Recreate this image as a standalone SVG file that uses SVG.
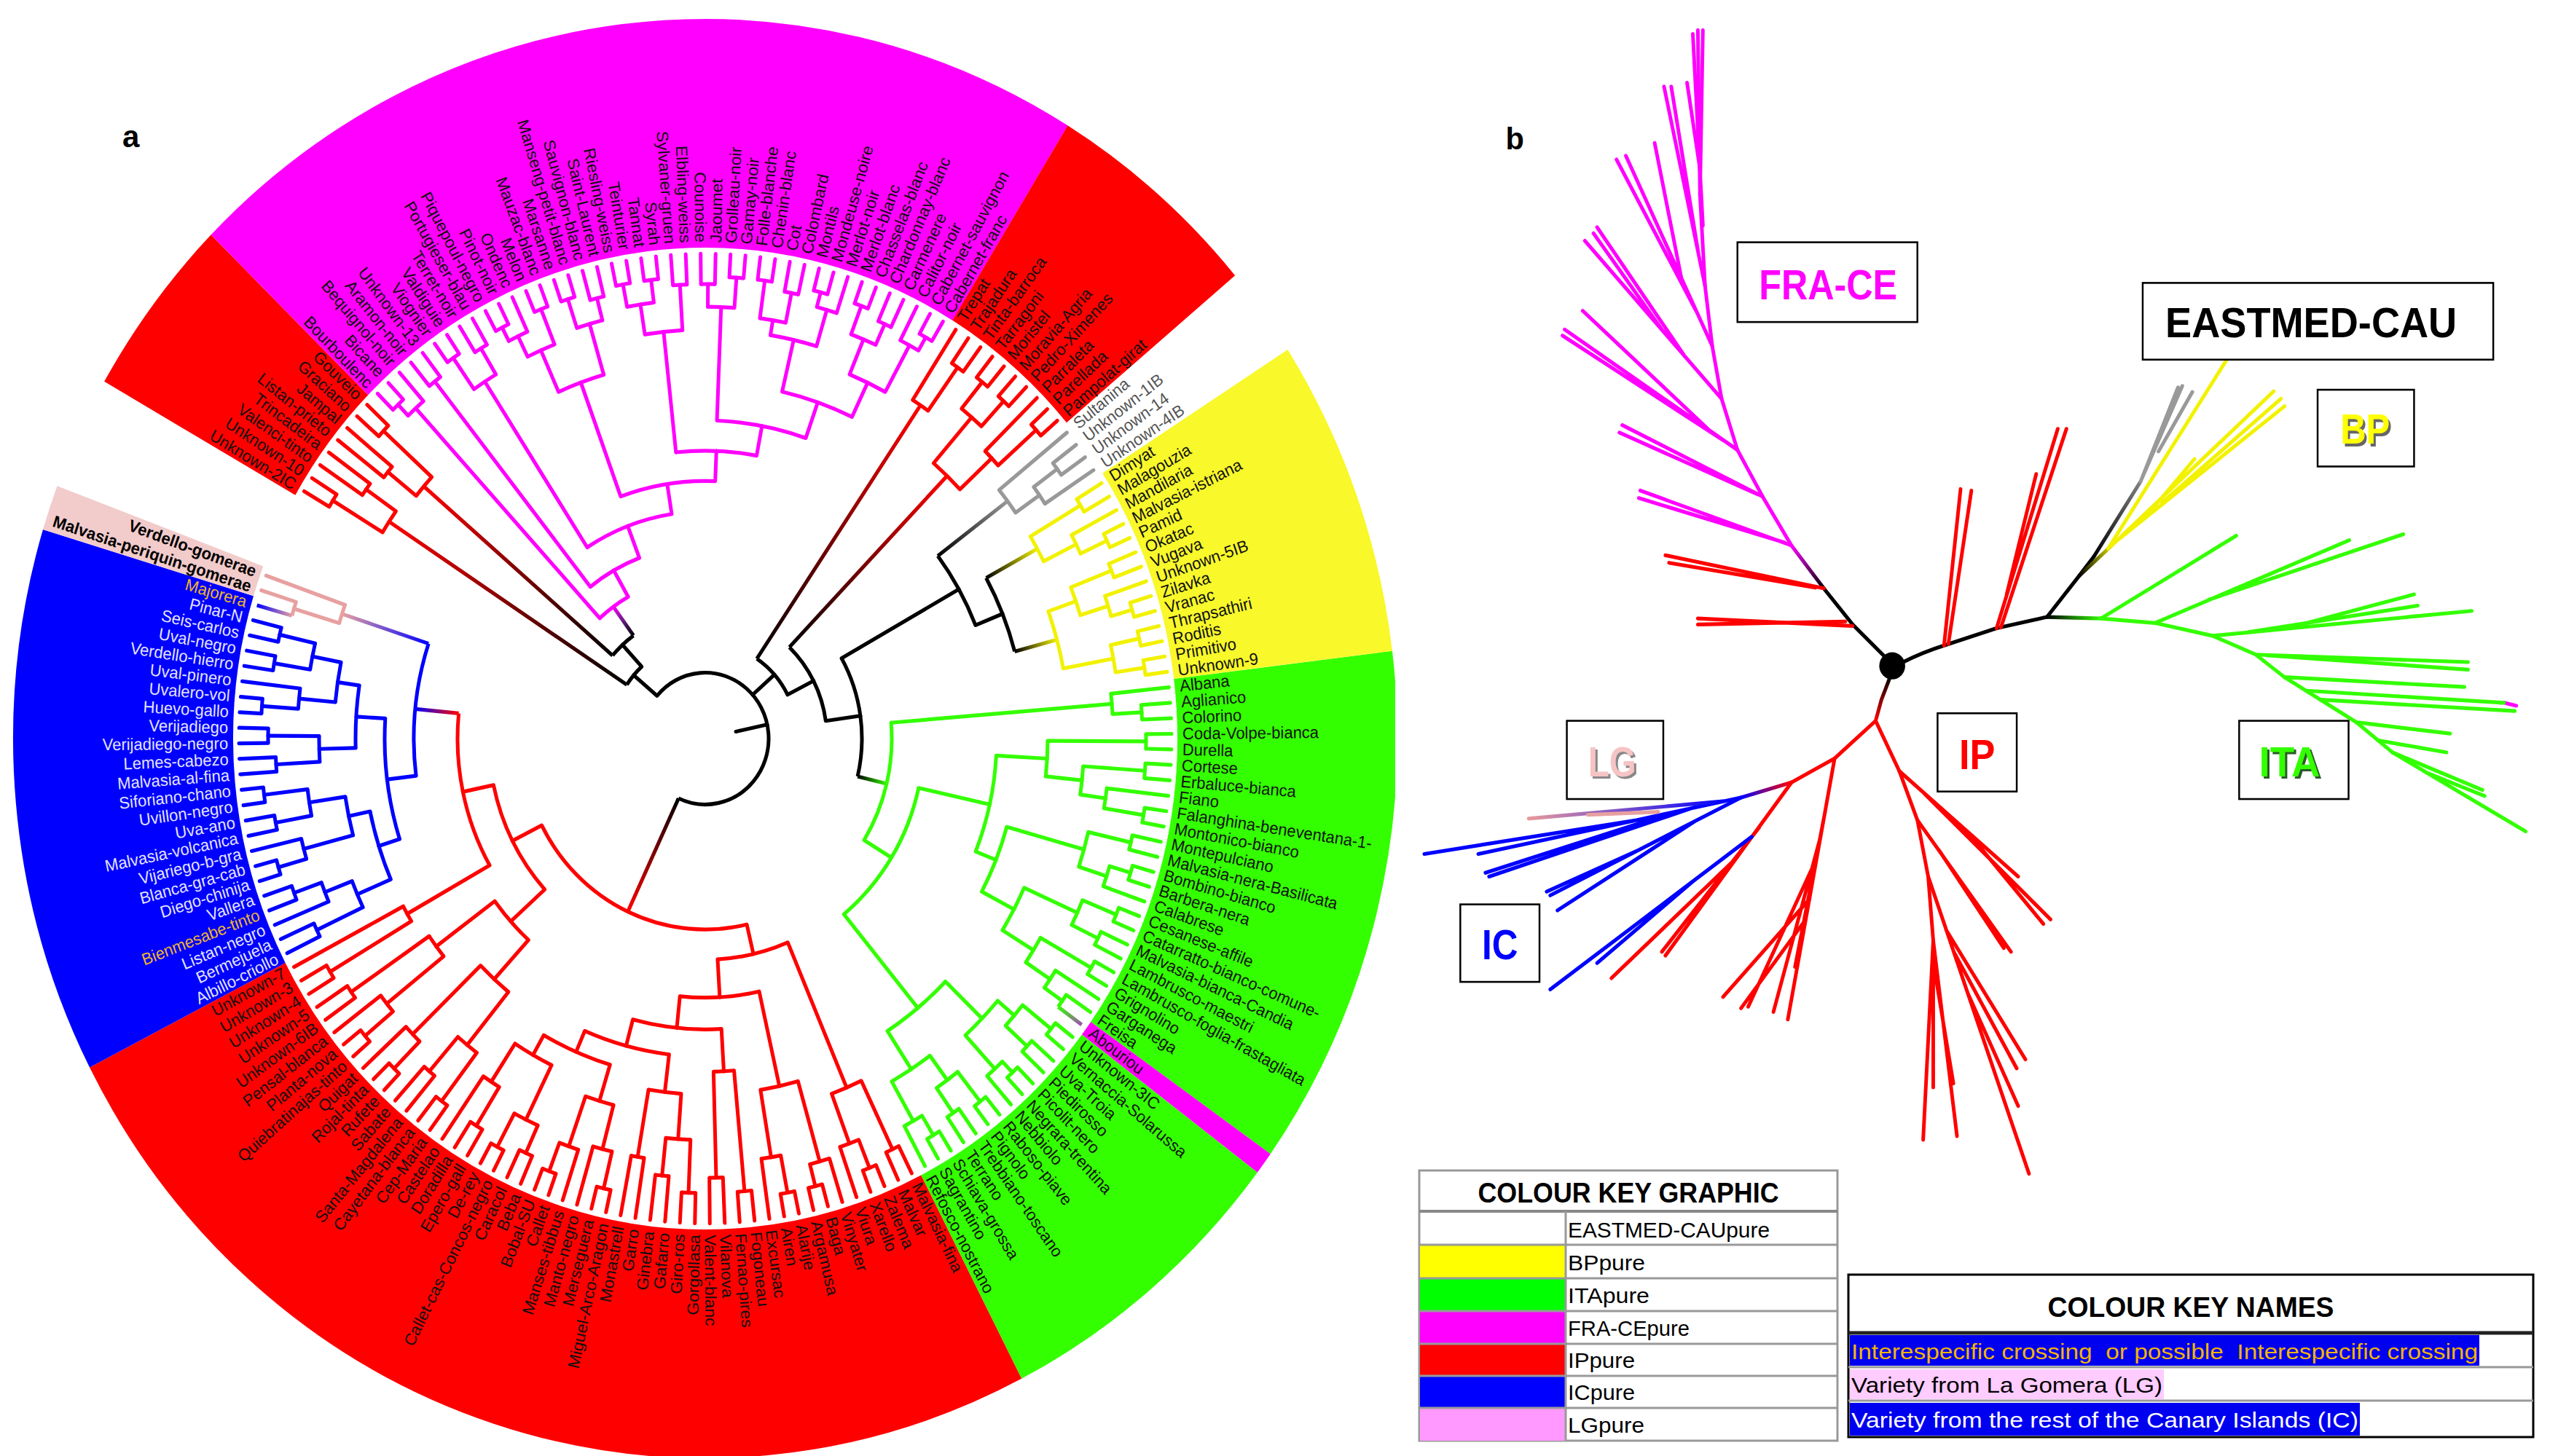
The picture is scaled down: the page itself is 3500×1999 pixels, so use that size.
<svg xmlns="http://www.w3.org/2000/svg" width="3500" height="1999" viewBox="0 0 3500 1999">
<defs>
<style>
.tr{fill:none;stroke-width:5;stroke-linecap:round}
.tr circle{stroke-linecap:butt;stroke-dasharray:var(--d) 999}
.tr circle,.tr line,.tr rect,.lab text,.wd circle{transform:rotate(calc(var(--i) * 1.8367deg - 6.07deg))}
.tr rect{stroke:none}
.wd circle{fill:none;stroke-width:302;stroke-dasharray:var(--d) 999}
.lab text{font-family:'Liberation Sans',Arial,Helvetica,sans-serif;font-size:22px;dominant-baseline:central;fill:#111}
.lab text.L{transform:rotate(calc(var(--i) * 1.8367deg - 186.07deg));text-anchor:end}
.lab .w{fill:#e4e4ff}
.lab .o{fill:#efb52a}
.lab .k{font-weight:bold;fill:#000}
.lab .g{fill:#555}
.bx rect{fill:#fff;stroke:#000;stroke-width:2.5}
.bx text{font-family:'Liberation Sans',Arial,sans-serif;font-weight:bold;font-size:56px;text-anchor:middle}
.kt{font-family:'Liberation Sans',Arial,sans-serif;font-size:30px}
.kh{font-family:'Liberation Sans',Arial,sans-serif;font-size:38px;font-weight:bold;text-anchor:middle}
</style>
<clipPath id="cA"><rect x="0" y="0" width="1915" height="1999"/></clipPath>
<linearGradient id="kR"><stop offset="0" stop-color="#000"/><stop offset="1" stop-color="#f00"/></linearGradient>
<linearGradient id="kM"><stop offset="0" stop-color="#000"/><stop offset=".5" stop-color="#602080"/><stop offset="1" stop-color="#f0f"/></linearGradient>
<linearGradient id="kG"><stop offset="0" stop-color="#000"/><stop offset="1" stop-color="#33ff00"/></linearGradient>
<linearGradient id="kY"><stop offset="0" stop-color="#000"/><stop offset="1" stop-color="#f2f200"/></linearGradient>
<linearGradient id="kGr"><stop offset="0" stop-color="#000"/><stop offset="1" stop-color="#999"/></linearGradient>
<linearGradient id="kRB"><stop offset="0" stop-color="#f00"/><stop offset="1" stop-color="#00f"/></linearGradient>
<linearGradient id="kBP"><stop offset="0" stop-color="#00f"/><stop offset="1" stop-color="#e8a0a0"/></linearGradient>
<linearGradient id="kPB"><stop offset="0" stop-color="#e8a0a0"/><stop offset="1" stop-color="#00f"/></linearGradient>
<linearGradient id="kGM"><stop offset="0" stop-color="#33ff00"/><stop offset="1" stop-color="#a050b0"/></linearGradient>
<linearGradient id="pbM" gradientUnits="userSpaceOnUse" x1="560" y1="782" x2="515" y2="725"><stop offset="0" stop-color="#000"/><stop offset="1" stop-color="#f0f"/></linearGradient>
<linearGradient id="pbR" gradientUnits="userSpaceOnUse" x1="652" y1="900" x2="632" y2="958"><stop offset="0" stop-color="#000"/><stop offset="1" stop-color="#f00"/></linearGradient>
<linearGradient id="pbRB" gradientUnits="userSpaceOnUse" x1="515" y1="1040" x2="445" y2="1060"><stop offset="0" stop-color="#f00"/><stop offset="1" stop-color="#00f"/></linearGradient>
<linearGradient id="pbG" gradientUnits="userSpaceOnUse" x1="870" y1="820" x2="945" y2="822"><stop offset="0" stop-color="#000"/><stop offset="1" stop-color="#33ff00"/></linearGradient>
<linearGradient id="pbY" gradientUnits="userSpaceOnUse" x1="915" y1="765" x2="965" y2="722"><stop offset="0" stop-color="#000"/><stop offset="1" stop-color="#f2f200"/></linearGradient>
<linearGradient id="pbGr" gradientUnits="userSpaceOnUse" x1="935" y1="740" x2="1010" y2="620"><stop offset="0" stop-color="#000"/><stop offset="1" stop-color="#999"/></linearGradient>
<linearGradient id="pbBP" gradientUnits="userSpaceOnUse" x1="420" y1="1065" x2="150" y2="1088"><stop offset="0" stop-color="#00f"/><stop offset="1" stop-color="#e89a9a"/></linearGradient>
</defs>
<rect width="3500" height="1999" fill="#fff"/>

<g id="panel-a" clip-path="url(#cA)">
<g transform="translate(968,1014) scale(1,1.04)">
<g id="wedges" class="wd">
<circle r="799" pathLength="196" stroke="#33ff00" style="--i:-0.5;--d:23"/>
<circle r="799" pathLength="196" stroke="#ff00ff" style="--i:22.5;--d:1"/>
<circle r="799" pathLength="196" stroke="#33ff00" style="--i:23.5;--d:14"/>
<circle r="799" pathLength="196" stroke="#ff0000" style="--i:37.5;--d:49"/>
<circle r="799" pathLength="196" stroke="#0000ff" style="--i:86.5;--d:24"/>
<circle r="799" pathLength="196" stroke="#f2cbcb" style="--i:110.5;--d:2"/>
<circle r="799" pathLength="196" stroke="#ff0000" style="--i:117.5;--d:8"/>
<circle r="799" pathLength="196" stroke="#ff00ff" style="--i:125.5;--d:42"/>
<circle r="799" pathLength="196" stroke="#ff0000" style="--i:167.5;--d:10"/>
<circle r="799" pathLength="196" stroke="#f8f82a" style="--i:181.5;--d:14"/>
</g>

<g id="connectors" class="tr">
<g id="tree-ITA" stroke="#33ff00">
<circle r="600" pathLength="196" style="--i:1;--d:1"/><line x1="600" x2="640" style="--i:1"/><line x1="600" x2="640" style="--i:2"/>
<circle r="560" pathLength="196" style="--i:0;--d:1.5"/><line x1="560" x2="640" style="--i:0"/><line x1="560" x2="600" style="--i:1.5"/>
<circle r="605" pathLength="196" style="--i:3;--d:1"/><line x1="605" x2="640" style="--i:3"/><line x1="605" x2="640" style="--i:4"/>
<circle r="605" pathLength="196" style="--i:5;--d:1"/><line x1="605" x2="640" style="--i:5"/><line x1="605" x2="640" style="--i:6"/>
<circle r="610" pathLength="196" style="--i:8;--d:1"/><line x1="610" x2="640" style="--i:8"/><line x1="610" x2="640" style="--i:9"/>
<circle r="555" pathLength="196" style="--i:7;--d:1.5"/><line x1="555" x2="640" style="--i:7"/><line x1="555" x2="610" style="--i:8.5"/>
<circle r="520" pathLength="196" style="--i:5.5;--d:2.25"/><line x1="520" x2="605" style="--i:5.5"/><line x1="520" x2="555" style="--i:7.75"/>
<circle r="470" pathLength="196" style="--i:3.5;--d:3.125"/><line x1="470" x2="605" style="--i:3.5"/><line x1="470" x2="520" style="--i:6.625"/>
<circle r="600" pathLength="196" style="--i:10;--d:1"/><line x1="600" x2="640" style="--i:10"/><line x1="600" x2="640" style="--i:11"/>
<circle r="610" pathLength="196" style="--i:12;--d:1"/><line x1="610" x2="640" style="--i:12"/><line x1="610" x2="640" style="--i:13"/>
<circle r="580" pathLength="196" style="--i:12.5;--d:1.5"/><line x1="580" x2="610" style="--i:12.5"/><line x1="580" x2="640" style="--i:14"/>
<circle r="540" pathLength="196" style="--i:10.5;--d:2.75"/><line x1="540" x2="600" style="--i:10.5"/><line x1="540" x2="580" style="--i:13.25"/>
<circle r="610" pathLength="196" style="--i:15;--d:1"/><line x1="610" x2="640" style="--i:15"/><line x1="610" x2="640" style="--i:16"/>
<circle r="600" pathLength="196" style="--i:17;--d:1"/><line x1="600" x2="640" style="--i:17"/><line x1="600" x2="640" style="--i:18"/>
<circle r="560" pathLength="196" style="--i:15.5;--d:2"/><line x1="560" x2="610" style="--i:15.5"/><line x1="560" x2="600" style="--i:17.5"/>
<circle r="610" pathLength="196" style="--i:19;--d:1"/><line x1="610" x2="640" style="--i:19"/><line x1="610" x2="640" style="--i:20"/>
<circle r="600" pathLength="196" style="--i:22;--d:1"/><line x1="600" x2="640" style="--i:22"/><rect x="600" y="-2.5" width="40" height="5" fill="url(#kGM)" style="--i:23"/>
<circle r="570" pathLength="196" style="--i:21;--d:1.5"/><line x1="570" x2="640" style="--i:21"/><line x1="570" x2="600" style="--i:22.5"/>
<circle r="530" pathLength="196" style="--i:19.5;--d:2.25"/><line x1="530" x2="610" style="--i:19.5"/><line x1="530" x2="570" style="--i:21.75"/>
<circle r="480" pathLength="196" style="--i:16.5;--d:4.125"/><line x1="480" x2="560" style="--i:16.5"/><line x1="480" x2="530" style="--i:20.625"/>
<circle r="430" pathLength="196" style="--i:11.875;--d:6.6875"/><line x1="430" x2="540" style="--i:11.875"/><line x1="430" x2="480" style="--i:18.5625"/>
<circle r="400" pathLength="196" style="--i:5.0625;--d:10.15625"/><line x1="400" x2="470" style="--i:5.0625"/><line x1="400" x2="430" style="--i:15.21875"/>
<circle r="610" pathLength="196" style="--i:24;--d:1"/><line x1="610" x2="640" style="--i:24"/><line x1="610" x2="640" style="--i:25"/>
<circle r="600" pathLength="196" style="--i:26;--d:1"/><line x1="600" x2="640" style="--i:26"/><line x1="600" x2="640" style="--i:27"/>
<circle r="560" pathLength="196" style="--i:24.5;--d:2"/><line x1="560" x2="610" style="--i:24.5"/><line x1="560" x2="600" style="--i:26.5"/>
<circle r="610" pathLength="196" style="--i:28;--d:1"/><line x1="610" x2="640" style="--i:28"/><line x1="610" x2="640" style="--i:29"/>
<circle r="590" pathLength="196" style="--i:28.5;--d:1.5"/><line x1="590" x2="610" style="--i:28.5"/><line x1="590" x2="640" style="--i:30"/>
<circle r="530" pathLength="196" style="--i:25.5;--d:3.75"/><line x1="530" x2="560" style="--i:25.5"/><line x1="530" x2="590" style="--i:29.25"/>
<circle r="610" pathLength="196" style="--i:31;--d:1"/><line x1="610" x2="640" style="--i:31"/><line x1="610" x2="640" style="--i:32"/>
<circle r="600" pathLength="196" style="--i:33;--d:1"/><line x1="600" x2="640" style="--i:33"/><line x1="600" x2="640" style="--i:34"/>
<circle r="560" pathLength="196" style="--i:31.5;--d:2"/><line x1="560" x2="610" style="--i:31.5"/><line x1="560" x2="600" style="--i:33.5"/>
<circle r="610" pathLength="196" style="--i:35;--d:1"/><line x1="610" x2="640" style="--i:35"/><line x1="610" x2="640" style="--i:36"/>
<circle r="580" pathLength="196" style="--i:35.5;--d:1.5"/><line x1="580" x2="610" style="--i:35.5"/><line x1="580" x2="640" style="--i:37"/>
<circle r="520" pathLength="196" style="--i:32.5;--d:3.75"/><line x1="520" x2="560" style="--i:32.5"/><line x1="520" x2="580" style="--i:36.25"/>
<circle r="460" pathLength="196" style="--i:27.375;--d:7"/><line x1="460" x2="530" style="--i:27.375"/><line x1="460" x2="520" style="--i:34.375"/>
<circle r="300" pathLength="196" style="--i:10.140625;--d:20.734375"/><line x1="300" x2="400" style="--i:10.140625"/><line x1="300" x2="460" style="--i:30.875"/>
<circle r="256" pathLength="196" style="--i:0.75;--d:19.7578"/><line x1="256" x2="560" style="--i:0.75"/><line x1="256" x2="300" style="--i:20.5078"/>
</g>
<g id="tree-BP" stroke="#f2f200">
<circle r="600" pathLength="196" style="--i:182;--d:1"/><line x1="600" x2="640" style="--i:182"/><line x1="600" x2="640" style="--i:183"/>
<circle r="610" pathLength="196" style="--i:185;--d:1"/><line x1="610" x2="640" style="--i:185"/><line x1="610" x2="640" style="--i:186"/>
<circle r="570" pathLength="196" style="--i:184;--d:1.5"/><line x1="570" x2="640" style="--i:184"/><line x1="570" x2="610" style="--i:185.5"/>
<circle r="520" pathLength="196" style="--i:182.5;--d:2.25"/><line x1="520" x2="600" style="--i:182.5"/><line x1="520" x2="570" style="--i:184.75"/>
<circle r="600" pathLength="196" style="--i:187;--d:1"/><line x1="600" x2="640" style="--i:187"/><line x1="600" x2="640" style="--i:188"/>
<circle r="610" pathLength="196" style="--i:190;--d:1"/><line x1="610" x2="640" style="--i:190"/><line x1="610" x2="640" style="--i:191"/>
<circle r="580" pathLength="196" style="--i:189;--d:1.5"/><line x1="580" x2="640" style="--i:189"/><line x1="580" x2="610" style="--i:190.5"/>
<circle r="540" pathLength="196" style="--i:187.5;--d:2.25"/><line x1="540" x2="600" style="--i:187.5"/><line x1="540" x2="580" style="--i:189.75"/>
<circle r="610" pathLength="196" style="--i:192;--d:1"/><line x1="610" x2="640" style="--i:192"/><line x1="610" x2="640" style="--i:193"/>
<circle r="610" pathLength="196" style="--i:194;--d:1"/><line x1="610" x2="640" style="--i:194"/><line x1="610" x2="640" style="--i:195"/>
<circle r="570" pathLength="196" style="--i:192.5;--d:2"/><line x1="570" x2="610" style="--i:192.5"/><line x1="570" x2="610" style="--i:194.5"/>
<circle r="500" pathLength="196" style="--i:188.625;--d:4.875"/><line x1="500" x2="540" style="--i:188.625"/><line x1="500" x2="570" style="--i:193.5"/>
<rect x="440" y="-2.5" width="80" height="5" fill="url(#kY)" style="--i:183.625"/>
<rect x="440" y="-2.5" width="60" height="5" fill="url(#kY)" style="--i:191.0625"/>
</g>
<g id="tree-EASTMED" stroke="#999">
<circle r="600" pathLength="196" style="--i:179;--d:1"/><line x1="600" x2="640" style="--i:179"/><line x1="600" x2="640" style="--i:180"/>
<circle r="560" pathLength="196" style="--i:179.5;--d:1.5"/><line x1="560" x2="600" style="--i:179.5"/><line x1="560" x2="640" style="--i:181"/>
<circle r="520" pathLength="196" style="--i:178;--d:2.25"/><line x1="520" x2="640" style="--i:178"/><line x1="520" x2="560" style="--i:180.25"/>
<rect x="400" y="-2.5" width="120" height="5" fill="url(#kGr)" style="--i:179.125"/>
</g>
<g id="tree-IP" stroke="#ff0000">
<circle r="600" pathLength="196" style="--i:169;--d:1"/><line x1="600" x2="640" style="--i:169"/><line x1="600" x2="640" style="--i:170"/>
<circle r="530" pathLength="196" style="--i:168;--d:1.5"/><line x1="530" x2="640" style="--i:168"/><line x1="530" x2="600" style="--i:169.5"/>
<circle r="605" pathLength="196" style="--i:171;--d:1"/><line x1="605" x2="640" style="--i:171"/><line x1="605" x2="640" style="--i:172"/>
<circle r="605" pathLength="196" style="--i:173;--d:1"/><line x1="605" x2="640" style="--i:173"/><line x1="605" x2="640" style="--i:174"/>
<circle r="560" pathLength="196" style="--i:171.5;--d:2"/><line x1="560" x2="605" style="--i:171.5"/><line x1="560" x2="605" style="--i:173.5"/>
<circle r="610" pathLength="196" style="--i:176;--d:1"/><line x1="610" x2="640" style="--i:176"/><line x1="610" x2="640" style="--i:177"/>
<circle r="540" pathLength="196" style="--i:175;--d:1.5"/><line x1="540" x2="640" style="--i:175"/><line x1="540" x2="610" style="--i:176.5"/>
<circle r="480" pathLength="196" style="--i:172.5;--d:3.25"/><line x1="480" x2="560" style="--i:172.5"/><line x1="480" x2="540" style="--i:175.75"/>
<circle r="600" pathLength="196" style="--i:118;--d:1"/><line x1="600" x2="640" style="--i:118"/><line x1="600" x2="640" style="--i:119"/>
<circle r="570" pathLength="196" style="--i:120;--d:1"/><line x1="570" x2="640" style="--i:120"/><line x1="570" x2="640" style="--i:121"/>
<circle r="520" pathLength="196" style="--i:118.5;--d:2"/><line x1="520" x2="600" style="--i:118.5"/><line x1="520" x2="570" style="--i:120.5"/>
<circle r="560" pathLength="196" style="--i:122;--d:1"/><line x1="560" x2="640" style="--i:122"/><line x1="560" x2="640" style="--i:123"/>
<circle r="600" pathLength="196" style="--i:124;--d:1"/><line x1="600" x2="640" style="--i:124"/><line x1="600" x2="640" style="--i:125"/>
<circle r="510" pathLength="196" style="--i:122.5;--d:2"/><line x1="510" x2="560" style="--i:122.5"/><line x1="510" x2="600" style="--i:124.5"/>
<circle r="600" pathLength="196" style="--i:38;--d:1"/><line x1="600" x2="640" style="--i:38"/><line x1="600" x2="640" style="--i:39"/>
<circle r="610" pathLength="196" style="--i:40;--d:1"/><line x1="610" x2="640" style="--i:40"/><line x1="610" x2="640" style="--i:41"/>
<circle r="570" pathLength="196" style="--i:40.5;--d:1.5"/><line x1="570" x2="610" style="--i:40.5"/><line x1="570" x2="640" style="--i:42"/>
<circle r="500" pathLength="196" style="--i:38.5;--d:2.75"/><line x1="500" x2="600" style="--i:38.5"/><line x1="500" x2="570" style="--i:41.25"/>
<circle r="610" pathLength="196" style="--i:44;--d:1"/><line x1="610" x2="640" style="--i:44"/><line x1="610" x2="640" style="--i:45"/>
<circle r="580" pathLength="196" style="--i:43;--d:1.5"/><line x1="580" x2="640" style="--i:43"/><line x1="580" x2="610" style="--i:44.5"/>
<circle r="610" pathLength="196" style="--i:46;--d:1"/><line x1="610" x2="640" style="--i:46"/><line x1="610" x2="640" style="--i:47"/>
<circle r="560" pathLength="196" style="--i:46.5;--d:1.5"/><line x1="560" x2="610" style="--i:46.5"/><line x1="560" x2="640" style="--i:48"/>
<circle r="470" pathLength="196" style="--i:43.75;--d:3.5"/><line x1="470" x2="580" style="--i:43.75"/><line x1="470" x2="560" style="--i:47.25"/>
<circle r="600" pathLength="196" style="--i:49;--d:1"/><line x1="600" x2="640" style="--i:49"/><line x1="600" x2="640" style="--i:50"/>
<circle r="580" pathLength="196" style="--i:51;--d:1"/><line x1="580" x2="640" style="--i:51"/><line x1="580" x2="640" style="--i:52"/>
<circle r="440" pathLength="196" style="--i:49.5;--d:2"/><line x1="440" x2="600" style="--i:49.5"/><line x1="440" x2="580" style="--i:51.5"/>
<circle r="600" pathLength="196" style="--i:53;--d:1"/><line x1="600" x2="640" style="--i:53"/><line x1="600" x2="640" style="--i:54"/>
<circle r="580" pathLength="196" style="--i:55;--d:1"/><line x1="580" x2="640" style="--i:55"/><line x1="580" x2="640" style="--i:56"/>
<circle r="530" pathLength="196" style="--i:53.5;--d:2"/><line x1="530" x2="600" style="--i:53.5"/><line x1="530" x2="580" style="--i:55.5"/>
<circle r="560" pathLength="196" style="--i:57;--d:1"/><line x1="560" x2="640" style="--i:57"/><line x1="560" x2="640" style="--i:58"/>
<circle r="470" pathLength="196" style="--i:54.5;--d:3"/><line x1="470" x2="530" style="--i:54.5"/><line x1="470" x2="560" style="--i:57.5"/>
<circle r="610" pathLength="196" style="--i:59;--d:1"/><line x1="610" x2="640" style="--i:59"/><line x1="610" x2="640" style="--i:60"/>
<circle r="560" pathLength="196" style="--i:59.5;--d:1.5"/><line x1="560" x2="610" style="--i:59.5"/><line x1="560" x2="640" style="--i:61"/>
<circle r="610" pathLength="196" style="--i:63;--d:1"/><line x1="610" x2="640" style="--i:63"/><line x1="610" x2="640" style="--i:64"/>
<circle r="570" pathLength="196" style="--i:62;--d:1.5"/><line x1="570" x2="640" style="--i:62"/><line x1="570" x2="610" style="--i:63.5"/>
<circle r="500" pathLength="196" style="--i:60.25;--d:2.5"/><line x1="500" x2="560" style="--i:60.25"/><line x1="500" x2="570" style="--i:62.75"/>
<circle r="600" pathLength="196" style="--i:65;--d:1"/><line x1="600" x2="640" style="--i:65"/><line x1="600" x2="640" style="--i:66"/>
<circle r="610" pathLength="196" style="--i:67;--d:1"/><line x1="610" x2="640" style="--i:67"/><line x1="610" x2="640" style="--i:68"/>
<circle r="560" pathLength="196" style="--i:65.5;--d:2"/><line x1="560" x2="600" style="--i:65.5"/><line x1="560" x2="610" style="--i:67.5"/>
<circle r="600" pathLength="196" style="--i:69;--d:1"/><line x1="600" x2="640" style="--i:69"/><line x1="600" x2="640" style="--i:70"/>
<circle r="540" pathLength="196" style="--i:69.5;--d:1.5"/><line x1="540" x2="600" style="--i:69.5"/><line x1="540" x2="640" style="--i:71"/>
<circle r="480" pathLength="196" style="--i:66.5;--d:3.75"/><line x1="480" x2="560" style="--i:66.5"/><line x1="480" x2="540" style="--i:70.25"/>
<circle r="450" pathLength="196" style="--i:61.5;--d:6.875"/><line x1="450" x2="500" style="--i:61.5"/><line x1="450" x2="480" style="--i:68.375"/>
<circle r="420" pathLength="196" style="--i:56;--d:8.9375"/><line x1="420" x2="470" style="--i:56"/><line x1="420" x2="450" style="--i:64.9375"/>
<circle r="384" pathLength="196" style="--i:50.5;--d:9.96875"/><line x1="384" x2="440" style="--i:50.5"/><line x1="384" x2="420" style="--i:60.46875"/>
<circle r="342" pathLength="196" style="--i:45.5;--d:9.984"/><line x1="342" x2="470" style="--i:45.5"/><line x1="342" x2="384" style="--i:55.484"/>
<circle r="292" pathLength="196" style="--i:39.875;--d:10.617"/><line x1="292" x2="500" style="--i:39.875"/><line x1="292" x2="342" style="--i:50.492"/>
<circle r="600" pathLength="196" style="--i:72;--d:1"/><line x1="600" x2="640" style="--i:72"/><line x1="600" x2="640" style="--i:73"/>
<circle r="580" pathLength="196" style="--i:74;--d:1"/><line x1="580" x2="640" style="--i:74"/><line x1="580" x2="640" style="--i:75"/>
<circle r="520" pathLength="196" style="--i:72.5;--d:2"/><line x1="520" x2="600" style="--i:72.5"/><line x1="520" x2="580" style="--i:74.5"/>
<circle r="610" pathLength="196" style="--i:76;--d:1"/><line x1="610" x2="640" style="--i:76"/><line x1="610" x2="640" style="--i:77"/>
<circle r="560" pathLength="196" style="--i:76.5;--d:1.5"/><line x1="560" x2="610" style="--i:76.5"/><line x1="560" x2="640" style="--i:78"/>
<circle r="430" pathLength="196" style="--i:73.5;--d:3.75"/><line x1="430" x2="520" style="--i:73.5"/><line x1="430" x2="560" style="--i:77.25"/>
<circle r="610" pathLength="196" style="--i:79;--d:1"/><line x1="610" x2="640" style="--i:79"/><line x1="610" x2="640" style="--i:80"/>
<circle r="560" pathLength="196" style="--i:79.5;--d:1.5"/><line x1="560" x2="610" style="--i:79.5"/><line x1="560" x2="640" style="--i:81"/>
<circle r="590" pathLength="196" style="--i:82;--d:1"/><line x1="590" x2="640" style="--i:82"/><line x1="590" x2="640" style="--i:83"/>
<circle r="460" pathLength="196" style="--i:80.25;--d:2.25"/><line x1="460" x2="560" style="--i:80.25"/><line x1="460" x2="590" style="--i:82.5"/>
<circle r="360" pathLength="196" style="--i:75.375;--d:6"/><line x1="360" x2="430" style="--i:75.375"/><line x1="360" x2="460" style="--i:81.375"/>
<circle r="600" pathLength="196" style="--i:84;--d:1"/><line x1="600" x2="640" style="--i:84"/><line x1="600" x2="640" style="--i:85"/>
<circle r="470" pathLength="196" style="--i:84.5;--d:1.5"/><line x1="470" x2="600" style="--i:84.5"/><line x1="470" x2="640" style="--i:86"/>
<circle r="340" pathLength="196" style="--i:85.25;--d:19.109"/><line x1="340" x2="470" style="--i:85.25"/><rect x="340" y="-2.5" width="60" height="5" fill="url(#kRB)" style="--i:104.359"/>
<circle r="297" pathLength="196" style="--i:78.375;--d:16.43"/><line x1="297" x2="360" style="--i:78.375"/><line x1="297" x2="340" style="--i:94.805"/>
<circle r="252" pathLength="196" style="--i:45.184;--d:41.406"/><line x1="252" x2="292" style="--i:45.184"/><line x1="252" x2="297" style="--i:86.59"/>
</g>
<g id="tree-IC" stroke="#0000ff">
<circle r="590" pathLength="196" style="--i:87;--d:1"/><line x1="590" x2="640" style="--i:87"/><line x1="590" x2="640" style="--i:88"/>
<circle r="600" pathLength="196" style="--i:90;--d:1"/><line x1="600" x2="640" style="--i:90"/><line x1="600" x2="640" style="--i:91"/>
<circle r="560" pathLength="196" style="--i:89;--d:1.5"/><line x1="560" x2="640" style="--i:89"/><line x1="560" x2="600" style="--i:90.5"/>
<circle r="520" pathLength="196" style="--i:87.5;--d:2.25"/><line x1="520" x2="590" style="--i:87.5"/><line x1="520" x2="560" style="--i:89.75"/>
<circle r="610" pathLength="196" style="--i:92;--d:1"/><line x1="610" x2="640" style="--i:92"/><line x1="610" x2="640" style="--i:93"/>
<circle r="570" pathLength="196" style="--i:92.5;--d:1.5"/><line x1="570" x2="610" style="--i:92.5"/><line x1="570" x2="640" style="--i:94"/>
<circle r="600" pathLength="196" style="--i:95;--d:1"/><line x1="600" x2="640" style="--i:95"/><line x1="600" x2="640" style="--i:96"/>
<circle r="610" pathLength="196" style="--i:97;--d:1"/><line x1="610" x2="640" style="--i:97"/><line x1="610" x2="640" style="--i:98"/>
<circle r="550" pathLength="196" style="--i:95.5;--d:2"/><line x1="550" x2="600" style="--i:95.5"/><line x1="550" x2="610" style="--i:97.5"/>
<circle r="500" pathLength="196" style="--i:93.25;--d:3.25"/><line x1="500" x2="570" style="--i:93.25"/><line x1="500" x2="550" style="--i:96.5"/>
<circle r="470" pathLength="196" style="--i:88.625;--d:6.25"/><line x1="470" x2="520" style="--i:88.625"/><line x1="470" x2="500" style="--i:94.875"/>
<circle r="590" pathLength="196" style="--i:99;--d:1"/><line x1="590" x2="640" style="--i:99"/><line x1="590" x2="640" style="--i:100"/>
<circle r="600" pathLength="196" style="--i:101;--d:1"/><line x1="600" x2="640" style="--i:101"/><line x1="600" x2="640" style="--i:102"/>
<circle r="530" pathLength="196" style="--i:99.5;--d:2"/><line x1="530" x2="590" style="--i:99.5"/><line x1="530" x2="600" style="--i:101.5"/>
<circle r="610" pathLength="196" style="--i:103;--d:1"/><line x1="610" x2="640" style="--i:103"/><line x1="610" x2="640" style="--i:104"/>
<circle r="560" pathLength="196" style="--i:103.5;--d:1.5"/><line x1="560" x2="610" style="--i:103.5"/><line x1="560" x2="640" style="--i:105"/>
<circle r="600" pathLength="196" style="--i:106;--d:1"/><line x1="600" x2="640" style="--i:106"/><line x1="600" x2="640" style="--i:107"/>
<circle r="600" pathLength="196" style="--i:108;--d:1"/><line x1="600" x2="640" style="--i:108"/><line x1="600" x2="640" style="--i:109"/>
<circle r="550" pathLength="196" style="--i:106.5;--d:2"/><line x1="550" x2="600" style="--i:106.5"/><line x1="550" x2="600" style="--i:108.5"/>
<circle r="510" pathLength="196" style="--i:104.25;--d:3.25"/><line x1="510" x2="560" style="--i:104.25"/><line x1="510" x2="550" style="--i:107.5"/>
<circle r="480" pathLength="196" style="--i:100.5;--d:5.375"/><line x1="480" x2="530" style="--i:100.5"/><line x1="480" x2="510" style="--i:105.875"/>
<circle r="440" pathLength="196" style="--i:91.75;--d:11.4375"/><line x1="440" x2="470" style="--i:91.75"/><line x1="440" x2="480" style="--i:103.1875"/>
<circle r="400" pathLength="196" style="--i:97.46875;--d:13.78"/><line x1="400" x2="440" style="--i:97.46875"/><rect x="400" y="-2.5" width="125" height="5" fill="url(#kBP)" style="--i:111.25"/>
</g>
<g id="tree-LG" stroke="#e8a0a0">
<circle r="590" pathLength="196" style="--i:110;--d:1"/><rect x="590" y="-2.5" width="50" height="5" fill="url(#kPB)" style="--i:110"/><line x1="590" x2="640" style="--i:111"/>
<circle r="525" pathLength="196" style="--i:110.5;--d:1.5"/><line x1="525" x2="590" style="--i:110.5"/><line x1="525" x2="640" style="--i:112"/>
</g>
<g id="tree-FRA-CE" stroke="#ff00ff">
<circle r="610" pathLength="196" style="--i:126;--d:1"/><line x1="610" x2="640" style="--i:126"/><line x1="610" x2="640" style="--i:127"/>
<circle r="590" pathLength="196" style="--i:126.5;--d:1.5"/><line x1="590" x2="610" style="--i:126.5"/><line x1="590" x2="640" style="--i:128"/>
<circle r="600" pathLength="196" style="--i:129;--d:1"/><line x1="600" x2="640" style="--i:129"/><line x1="600" x2="640" style="--i:130"/>
<circle r="610" pathLength="196" style="--i:131;--d:1"/><line x1="610" x2="640" style="--i:131"/><line x1="610" x2="640" style="--i:132"/>
<circle r="600" pathLength="196" style="--i:133;--d:1"/><line x1="600" x2="640" style="--i:133"/><line x1="600" x2="640" style="--i:134"/>
<circle r="560" pathLength="196" style="--i:131.5;--d:2"/><line x1="560" x2="610" style="--i:131.5"/><line x1="560" x2="600" style="--i:133.5"/>
<circle r="610" pathLength="196" style="--i:135;--d:1"/><line x1="610" x2="640" style="--i:135"/><line x1="610" x2="640" style="--i:136"/>
<circle r="590" pathLength="196" style="--i:135.5;--d:1.5"/><line x1="590" x2="610" style="--i:135.5"/><line x1="590" x2="640" style="--i:137"/>
<circle r="610" pathLength="196" style="--i:138;--d:1"/><line x1="610" x2="640" style="--i:138"/><line x1="610" x2="640" style="--i:139"/>
<circle r="560" pathLength="196" style="--i:136.25;--d:2.25"/><line x1="560" x2="590" style="--i:136.25"/><line x1="560" x2="610" style="--i:138.5"/>
<circle r="610" pathLength="196" style="--i:140;--d:1"/><line x1="610" x2="640" style="--i:140"/><line x1="610" x2="640" style="--i:141"/>
<circle r="600" pathLength="196" style="--i:142;--d:1"/><line x1="600" x2="640" style="--i:142"/><line x1="600" x2="640" style="--i:143"/>
<circle r="570" pathLength="196" style="--i:140.5;--d:2"/><line x1="570" x2="610" style="--i:140.5"/><line x1="570" x2="600" style="--i:142.5"/>
<circle r="500" pathLength="196" style="--i:137.375;--d:4.125"/><line x1="500" x2="560" style="--i:137.375"/><line x1="500" x2="570" style="--i:141.5"/>
<circle r="610" pathLength="196" style="--i:144;--d:1"/><line x1="610" x2="640" style="--i:144"/><line x1="610" x2="640" style="--i:145"/>
<circle r="610" pathLength="196" style="--i:146;--d:1"/><line x1="610" x2="640" style="--i:146"/><line x1="610" x2="640" style="--i:147"/>
<circle r="580" pathLength="196" style="--i:144.5;--d:2"/><line x1="580" x2="610" style="--i:144.5"/><line x1="580" x2="610" style="--i:146.5"/>
<circle r="600" pathLength="196" style="--i:148;--d:1"/><line x1="600" x2="640" style="--i:148"/><line x1="600" x2="640" style="--i:149"/>
<circle r="540" pathLength="196" style="--i:145.5;--d:3"/><line x1="540" x2="580" style="--i:145.5"/><line x1="540" x2="600" style="--i:148.5"/>
<circle r="600" pathLength="196" style="--i:150;--d:1"/><line x1="600" x2="640" style="--i:150"/><line x1="600" x2="640" style="--i:151"/>
<circle r="610" pathLength="196" style="--i:152;--d:1"/><line x1="610" x2="640" style="--i:152"/><line x1="610" x2="640" style="--i:153"/>
<circle r="570" pathLength="196" style="--i:150.5;--d:2"/><line x1="570" x2="600" style="--i:150.5"/><line x1="570" x2="610" style="--i:152.5"/>
<circle r="610" pathLength="196" style="--i:154;--d:1"/><line x1="610" x2="640" style="--i:154"/><line x1="610" x2="640" style="--i:155"/>
<circle r="600" pathLength="196" style="--i:156;--d:1"/><line x1="600" x2="640" style="--i:156"/><line x1="600" x2="640" style="--i:157"/>
<circle r="560" pathLength="196" style="--i:154.5;--d:2"/><line x1="560" x2="610" style="--i:154.5"/><line x1="560" x2="600" style="--i:156.5"/>
<circle r="610" pathLength="196" style="--i:158;--d:1"/><line x1="610" x2="640" style="--i:158"/><line x1="610" x2="640" style="--i:159"/>
<circle r="590" pathLength="196" style="--i:158.5;--d:1.5"/><line x1="590" x2="610" style="--i:158.5"/><line x1="590" x2="640" style="--i:160"/>
<circle r="540" pathLength="196" style="--i:155.5;--d:3.75"/><line x1="540" x2="560" style="--i:155.5"/><line x1="540" x2="590" style="--i:159.25"/>
<circle r="610" pathLength="196" style="--i:161;--d:1"/><line x1="610" x2="640" style="--i:161"/><line x1="610" x2="640" style="--i:162"/>
<circle r="600" pathLength="196" style="--i:163;--d:1"/><line x1="600" x2="640" style="--i:163"/><line x1="600" x2="640" style="--i:164"/>
<circle r="570" pathLength="196" style="--i:161.5;--d:2"/><line x1="570" x2="610" style="--i:161.5"/><line x1="570" x2="600" style="--i:163.5"/>
<circle r="610" pathLength="196" style="--i:166;--d:1"/><line x1="610" x2="640" style="--i:166"/><line x1="610" x2="640" style="--i:167"/>
<circle r="590" pathLength="196" style="--i:165;--d:1.5"/><line x1="590" x2="640" style="--i:165"/><line x1="590" x2="610" style="--i:166.5"/>
<circle r="520" pathLength="196" style="--i:162.5;--d:3.25"/><line x1="520" x2="570" style="--i:162.5"/><line x1="520" x2="590" style="--i:165.75"/>
<circle r="470" pathLength="196" style="--i:157.375;--d:6.75"/><line x1="470" x2="540" style="--i:157.375"/><line x1="470" x2="520" style="--i:164.125"/>
<circle r="420" pathLength="196" style="--i:151.5;--d:9.25"/><line x1="420" x2="570" style="--i:151.5"/><line x1="420" x2="470" style="--i:160.75"/>
<circle r="380" pathLength="196" style="--i:147;--d:9.125"/><line x1="380" x2="540" style="--i:147"/><line x1="380" x2="420" style="--i:156.125"/>
<circle r="340" pathLength="196" style="--i:139.4375;--d:12.125"/><line x1="340" x2="500" style="--i:139.4375"/><line x1="340" x2="380" style="--i:151.5625"/>
<circle r="300" pathLength="196" style="--i:132.5;--d:13"/><line x1="300" x2="560" style="--i:132.5"/><line x1="300" x2="340" style="--i:145.5"/>
<circle r="255" pathLength="196" style="--i:129.5;--d:9.5"/><line x1="255" x2="600" style="--i:129.5"/><line x1="255" x2="300" style="--i:139"/>
<circle r="215" pathLength="196" style="--i:127.25;--d:7"/><line x1="215" x2="590" style="--i:127.25"/><line x1="215" x2="255" style="--i:134.25"/>
</g>
<g id="tree-root" stroke="#000">
<circle r="87" pathLength="196" style="--i:123.3125;--d:138.575"/><line x1="87" x2="129" style="--i:123.3125"/><line x1="87" x2="127" style="--i:176.64"/><rect x="87" y="-2.5" width="165" height="5" fill="url(#kR)" style="--i:65.887"/>
<line x1="43" x2="87" style="--i:192.6"/>
<circle r="129" pathLength="196" style="--i:119.5;--d:7.625"/><rect x="129" y="-2.5" width="391" height="5" fill="url(#kR)" style="--i:119.5"/><line x1="129" x2="168" style="--i:127.125"/>
<circle r="168" pathLength="196" style="--i:123.5;--d:7.25"/><rect x="168" y="-2.5" width="342" height="5" fill="url(#kR)" style="--i:123.5"/><rect x="168" y="-2.5" width="47" height="5" fill="url(#kM)" style="--i:130.75"/>
<circle r="127" pathLength="196" style="--i:168.75;--d:15.78"/><rect x="127" y="-2.5" width="403" height="5" fill="url(#kR)" style="--i:168.75"/><line x1="127" x2="167" style="--i:184.53"/>
<circle r="167" pathLength="196" style="--i:174.125;--d:20.807"/><rect x="167" y="-2.5" width="313" height="5" fill="url(#kR)" style="--i:174.125"/><line x1="167" x2="215" style="--i:194.93"/>
<circle r="215" pathLength="196" style="--i:183.234;--d:23.395"/><line x1="215" x2="400" style="--i:183.234"/><rect x="215" y="-2.5" width="41" height="5" fill="url(#kG)" style="--i:206.6289"/>
<circle r="400" pathLength="196" style="--i:179.125;--d:8.21875"/><line x1="400" x2="440" style="--i:187.34375"/>
<circle r="440" pathLength="196" style="--i:183.625;--d:7.4375"/>
</g>
</g>

<g id="leaf-labels" class="lab">
<text x="655" style="--i:0">Albana</text>
<text x="655" style="--i:1">Aglianico</text>
<text x="655" style="--i:2">Colorino</text>
<text x="655" style="--i:3">Coda-Volpe-bianca</text>
<text x="655" style="--i:4">Durella</text>
<text x="655" style="--i:5">Cortese</text>
<text x="655" style="--i:6">Erbaluce-bianca</text>
<text x="655" style="--i:7">Fiano</text>
<text x="655" style="--i:8">Falanghina-beneventana-1-</text>
<text x="655" style="--i:9">Montonico-bianco</text>
<text x="655" style="--i:10">Montepulciano</text>
<text x="655" style="--i:11">Malvasia-nera-Basilicata</text>
<text x="655" style="--i:12">Bombino-bianco</text>
<text x="655" style="--i:13">Barbera-nera</text>
<text x="655" style="--i:14">Calabrese</text>
<text x="655" style="--i:15">Cesanese-affile</text>
<text x="655" style="--i:16">Catarratto-bianco-comune-</text>
<text x="655" style="--i:17">Malvasia-bianca-Candia</text>
<text x="655" style="--i:18">Lambrusco-maestri</text>
<text x="655" style="--i:19">Lambrusco-foglia-frastagliata</text>
<text x="655" style="--i:20">Grignolino</text>
<text x="655" style="--i:21">Garganega</text>
<text x="655" style="--i:22">Freisa</text>
<text x="655" style="--i:23">Abouriou</text>
<text x="655" style="--i:24">Unknown-3IC</text>
<text x="655" style="--i:25">Vernaccia-Solarussa</text>
<text x="655" style="--i:26">Uva-Troia</text>
<text x="655" style="--i:27">Piedirosso</text>
<text x="655" style="--i:28">Picolit-nero</text>
<text x="655" style="--i:29">Negrara-trentina</text>
<text x="655" style="--i:30">Nebbiolo</text>
<text x="655" style="--i:31">Raboso-piave</text>
<text x="655" style="--i:32">Pignolo</text>
<text x="655" style="--i:33">Trebbiano-toscano</text>
<text x="655" style="--i:34">Terrano</text>
<text x="655" style="--i:35">Schiava-grossa</text>
<text x="655" style="--i:36">Sagrantino</text>
<text x="655" style="--i:37">Refosco-nostrano</text>
<text x="655" style="--i:38">Malvasia-fina</text>
<text x="655" style="--i:39">Malvar</text>
<text x="655" style="--i:40">Zalema</text>
<text x="655" style="--i:41">Xarello</text>
<text x="655" style="--i:42">Viura</text>
<text x="655" style="--i:43">Vinyater</text>
<text x="655" style="--i:44">Baga</text>
<text x="655" style="--i:45">Argamusa</text>
<text x="655" style="--i:46">Alarije</text>
<text x="655" style="--i:47">Airen</text>
<text x="655" style="--i:48">Excursac</text>
<text x="655" style="--i:49">Fogoneau</text>
<text x="655" style="--i:50">Fernao-pires</text>
<text x="655" style="--i:51">Vilanova</text>
<text x="655" style="--i:52">Valent-blanc</text>
<text class="L" x="-655" style="--i:53">Gorgollasa</text>
<text class="L" x="-655" style="--i:54">Giro-ros</text>
<text class="L" x="-655" style="--i:55">Gafarro</text>
<text class="L" x="-655" style="--i:56">Ginebra</text>
<text class="L" x="-655" style="--i:57">Garro</text>
<text class="L" x="-655" style="--i:58">Monastrell</text>
<text class="L" x="-655" style="--i:59">Miguel-Arco-Aragon</text>
<text class="L" x="-655" style="--i:60">Merseguera</text>
<text class="L" x="-655" style="--i:61">Manto-negro</text>
<text class="L" x="-655" style="--i:62">Manses-tibbus</text>
<text class="L" x="-655" style="--i:63">Callet</text>
<text class="L" x="-655" style="--i:64">Bobal-SU</text>
<text class="L" x="-655" style="--i:65">Beba</text>
<text class="L" x="-655" style="--i:66">Caracol</text>
<text class="L" x="-655" style="--i:67">Callet-cas-Concos-negro</text>
<text class="L" x="-655" style="--i:68">De-rey</text>
<text class="L" x="-655" style="--i:69">Epero-gall</text>
<text class="L" x="-655" style="--i:70">Doradilla</text>
<text class="L" x="-655" style="--i:71">Castelao</text>
<text class="L" x="-655" style="--i:72">Cep-Maria</text>
<text class="L" x="-655" style="--i:73">Cayetana-blanca</text>
<text class="L" x="-655" style="--i:74">Santa-Magdalena</text>
<text class="L" x="-655" style="--i:75">Sabate</text>
<text class="L" x="-655" style="--i:76">Rufete</text>
<text class="L" x="-655" style="--i:77">Rojal-tinta</text>
<text class="L" x="-655" style="--i:78">Quigat</text>
<text class="L" x="-655" style="--i:79">Quiebratinajas-tinto</text>
<text class="L" x="-655" style="--i:80">Planta-nova</text>
<text class="L" x="-655" style="--i:81">Pensal-blanca</text>
<text class="L" x="-655" style="--i:82">Unknown-6IB</text>
<text class="L" x="-655" style="--i:83">Unknown-5</text>
<text class="L" x="-655" style="--i:84">Unknown-4</text>
<text class="L" x="-655" style="--i:85">Unknown-3</text>
<text class="L" x="-655" style="--i:86">Unknown-7</text>
<text class="L w" x="-655" style="--i:87">Albillo-criollo</text>
<text class="L w" x="-655" style="--i:88">Bermejuela</text>
<text class="L w" x="-655" style="--i:89">Listan-negro</text>
<text class="L o" x="-655" style="--i:90">Bienmesabe-tinto</text>
<text class="L w" x="-655" style="--i:91">Vallera</text>
<text class="L w" x="-655" style="--i:92">Diego-chinija</text>
<text class="L w" x="-655" style="--i:93">Blanca-gra-cab</text>
<text class="L w" x="-655" style="--i:94">Vijariego-b-gra</text>
<text class="L w" x="-655" style="--i:95">Malvasia-volcanica</text>
<text class="L w" x="-655" style="--i:96">Uva-ano</text>
<text class="L w" x="-655" style="--i:97">Uvillon-negro</text>
<text class="L w" x="-655" style="--i:98">Siforiano-chano</text>
<text class="L w" x="-655" style="--i:99">Malvasia-al-fina</text>
<text class="L w" x="-655" style="--i:100">Lemes-cabezo</text>
<text class="L w" x="-655" style="--i:101">Verijadiego-negro</text>
<text class="L w" x="-655" style="--i:102">Verijadiego</text>
<text class="L w" x="-655" style="--i:103">Huevo-gallo</text>
<text class="L w" x="-655" style="--i:104">Uvalero-vol</text>
<text class="L w" x="-655" style="--i:105">Uval-pinero</text>
<text class="L w" x="-655" style="--i:106">Verdello-hierro</text>
<text class="L w" x="-655" style="--i:107">Uval-negro</text>
<text class="L w" x="-655" style="--i:108">Seis-carlos</text>
<text class="L w" x="-655" style="--i:109">Pinar-N</text>
<text class="L o" x="-655" style="--i:110">Majorera</text>
<text class="L k" x="-655" style="--i:111">Malvasia-periquin-gomerae</text>
<text class="L k" x="-655" style="--i:112">Verdello-gomerae</text>
<text class="L" x="-655" style="--i:118">Unknown-2IC</text>
<text class="L" x="-655" style="--i:119">Unknown-10</text>
<text class="L" x="-655" style="--i:120">Valenci-tinto</text>
<text class="L" x="-655" style="--i:121">Trincadeira</text>
<text class="L" x="-655" style="--i:122">Listan-prieto</text>
<text class="L" x="-655" style="--i:123">Jampal</text>
<text class="L" x="-655" style="--i:124">Graciano</text>
<text class="L" x="-655" style="--i:125">Gouveio</text>
<text class="L" x="-655" style="--i:126">Bourboulenc</text>
<text class="L" x="-655" style="--i:127">Bicane</text>
<text class="L" x="-655" style="--i:128">Bequignol-noir</text>
<text class="L" x="-655" style="--i:129">Aramon-noir</text>
<text class="L" x="-655" style="--i:130">Unknown-13</text>
<text class="L" x="-655" style="--i:131">Viognier</text>
<text class="L" x="-655" style="--i:132">Valdiguie</text>
<text class="L" x="-655" style="--i:133">Terret-noir</text>
<text class="L" x="-655" style="--i:134">Portugieser-blau</text>
<text class="L" x="-655" style="--i:135">Piquepoul-negro</text>
<text class="L" x="-655" style="--i:136">Pinot-noir</text>
<text class="L" x="-655" style="--i:137">Ondenc</text>
<text class="L" x="-655" style="--i:138">Melon</text>
<text class="L" x="-655" style="--i:139">Mauzac-blanc</text>
<text class="L" x="-655" style="--i:140">Marsanne</text>
<text class="L" x="-655" style="--i:141">Manseng-petit-blanc</text>
<text class="L" x="-655" style="--i:142">Sauvignon-blanc</text>
<text class="L" x="-655" style="--i:143">Saint-Laurent</text>
<text class="L" x="-655" style="--i:144">Riesling-weiss</text>
<text class="L" x="-655" style="--i:145">Teinturier</text>
<text class="L" x="-655" style="--i:146">Tannat</text>
<text class="L" x="-655" style="--i:147">Syrah</text>
<text class="L" x="-655" style="--i:148">Sylvaner-gruen</text>
<text class="L" x="-655" style="--i:149">Elbling-weiss</text>
<text class="L" x="-655" style="--i:150">Counoise</text>
<text x="655" style="--i:151">Jaoumet</text>
<text x="655" style="--i:152">Grolleau-noir</text>
<text x="655" style="--i:153">Gamay-noir</text>
<text x="655" style="--i:154">Folle-blanche</text>
<text x="655" style="--i:155">Chenin-blanc</text>
<text x="655" style="--i:156">Cot</text>
<text x="655" style="--i:157">Colombard</text>
<text x="655" style="--i:158">Montils</text>
<text x="655" style="--i:159">Mondeuse-noire</text>
<text x="655" style="--i:160">Merlot-noir</text>
<text x="655" style="--i:161">Merlot-blanc</text>
<text x="655" style="--i:162">Chasselas-blanc</text>
<text x="655" style="--i:163">Chardonnay-blanc</text>
<text x="655" style="--i:164">Carmenere</text>
<text x="655" style="--i:165">Calitor-noir</text>
<text x="655" style="--i:166">Cabernet-sauvignon</text>
<text x="655" style="--i:167">Cabernet-franc</text>
<text x="655" style="--i:168">Trepat</text>
<text x="655" style="--i:169">Trajadura</text>
<text x="655" style="--i:170">Tinta-barroca</text>
<text x="655" style="--i:171">Tarragoni</text>
<text x="655" style="--i:172">Moristel</text>
<text x="655" style="--i:173">Moravia-Agria</text>
<text x="655" style="--i:174">Pedro-Ximenes</text>
<text x="655" style="--i:175">Parraleta</text>
<text x="655" style="--i:176">Parellada</text>
<text x="655" style="--i:177">Pampolat-girat</text>
<text class="g" x="655" style="--i:178">Sultanina</text>
<text class="g" x="655" style="--i:179">Unknown-1IB</text>
<text class="g" x="655" style="--i:180">Unknown-14</text>
<text class="g" x="655" style="--i:181">Unknown-4IB</text>
<text x="655" style="--i:182">Dimyat</text>
<text x="655" style="--i:183">Malagouzia</text>
<text x="655" style="--i:184">Mandilaria</text>
<text x="655" style="--i:185">Malvasia-istriana</text>
<text x="655" style="--i:186">Pamid</text>
<text x="655" style="--i:187">Okatac</text>
<text x="655" style="--i:188">Vugava</text>
<text x="655" style="--i:189">Unknown-5IB</text>
<text x="655" style="--i:190">Zilavka</text>
<text x="655" style="--i:191">Vranac</text>
<text x="655" style="--i:192">Thrapsathiri</text>
<text x="655" style="--i:193">Roditis</text>
<text x="655" style="--i:194">Primitivo</text>
<text x="655" style="--i:195">Unknown-9</text>
</g>
</g>
</g>
<text x="168" y="202" font-family="Liberation Sans, Arial, sans-serif" font-size="42" font-weight="bold">a</text>

<g id="panel-b" transform="translate(1950,0) scale(0.988,1.033)">
<g id="unrooted-tree" fill="none" stroke-width="5" stroke-linecap="round" stroke-linejoin="round">
<g stroke="#ff00ff">
<path d="M515,725 L475,660 L440,598 L418,530 L405,460 L395,380 L388,260 L385,40"/>
<path d="M388,260 L392,40 M392,300 L378,45"/>
<path d="M515,725 L305,652 M505,721 L303,662 M475,660 L280,565 M468,657 L276,575"/>
<path d="M440,598 L200,438 M420,585 L197,446 M400,571 L225,413"/>
<path d="M418,530 L228,320 M365,471 L245,302 M335,438 L240,310"/>
<path d="M405,460 L285,207 M383,414 L272,212 M362,369 L325,190"/>
<path d="M395,380 L338,115 M386,338 L348,115 M388,225 L370,110"/>
<path d="M1505,934 L1522,938"/>
</g>
<path d="M560,782 L515,725" stroke="url(#pbM)"/>
<path d="M645,873 L600,830 L560,782" stroke="#000"/>
<path d="M670,880 Q700,866 727,858 L800,835 L870,820 L915,765 L935,740" stroke="#000"/>
<path d="M652,900 L640,930 L632,958" stroke="url(#pbR)"/>
<g stroke="#ff0000">
<path d="M600,832 L385,822 M590,826 L385,830 M560,782 L340,738 M548,781 L345,748"/>
<path d="M727,858 L750,650 M733,856 L765,652 M800,835 L885,570 M806,834 L897,570 M814,790 L855,630"/>
<path d="M632,958 L575,1008 L515,1040 M632,958 L665,1025 L690,1090 L705,1165 L712,1250"/>
<path d="M665,1025 L830,1165 M700,1055 L875,1222 M760,1106 L865,1228 M690,1090 L820,1265 M720,1130 L810,1260"/>
<path d="M705,1165 L845,1560 M730,1236 L840,1408 M740,1264 L828,1420 M760,1320 L830,1470"/>
<path d="M712,1250 L698,1515 M712,1250 L712,1445 M712,1250 L745,1510 M714,1290 L740,1440"/>
<path d="M575,1008 L510,1355 M562,1078 L520,1285 M556,1110 L490,1345 M550,1141 L455,1338 M540,1195 L420,1325 M535,1222 L445,1340"/>
<path d="M515,1040 L340,1270 M470,1100 L335,1265 M440,1139 L265,1300"/>
</g>
<path d="M515,1040 L445,1060" stroke="url(#pbRB)"/>
<g stroke="#0000ff">
<path d="M445,1060 L300,1090 L5,1135 M300,1090 L80,1135 M350,1080 L90,1160 M380,1073 L95,1165"/>
<path d="M445,1060 L180,1190 M380,1092 L190,1210 M300,1131 L175,1185"/>
<path d="M460,1112 L180,1315 M380,1170 L245,1280"/>
</g>
<path d="M420,1065 L150,1088" stroke="url(#pbBP)"/>
<path d="M330,1079 L232,1083" stroke="#e8a0a0"/>
<path d="M935,740 L1000,640" stroke="url(#pbGr)"/>
<path d="M1000,640 L1052,515 M1000,640 L1058,513 M1025,600 L1072,521" stroke="#999"/>
<path d="M915,765 L960,725" stroke="url(#pbY)"/>
<path d="M955,729 L1125,470 M960,725 L1185,520 M968,718 L1200,540 M1030,668 L1195,530 M1010,684 L1075,610" stroke="#f2f200"/>
<path d="M870,820 L945,822" stroke="url(#pbG)"/>
<g stroke="#33ff00">
<path d="M945,822 L1020,828 L1100,845 L1160,870 L1200,900 L1250,930 L1300,960 L1350,1000 L1535,1105"/>
<path d="M945,822 L1133,712 M1020,828 L1290,718 M1095,797 L1365,710"/>
<path d="M1100,845 L1460,812 M1150,840 L1385,805 M1200,836 L1380,790"/>
<path d="M1160,870 L1455,880 M1175,871 L1455,890 M1200,900 L1450,913"/>
<path d="M1250,930 L1520,945 M1230,918 L1505,934"/>
<path d="M1300,960 L1430,975 M1330,984 L1425,1000 M1350,1000 L1475,1050 M1400,1028 L1478,1058"/>
</g>
<circle cx="655" cy="885" r="18" fill="#000" stroke="none"/>
</g>
<text x="118" y="198" font-family="Liberation Sans, Arial, sans-serif" font-size="42" font-weight="bold">b</text>
<g id="lbl-FRA-CE" class="bx"><rect x="440" y="322" width="250" height="106"/><text x="566" y="398" textLength="192" lengthAdjust="spacingAndGlyphs" fill="#ff00ff">FRA-CE</text></g>
<g id="lbl-EASTMED-CAU" class="bx"><rect x="1003" y="376" width="487" height="102"/><text x="1237" y="448" textLength="405" lengthAdjust="spacingAndGlyphs" fill="#000">EASTMED-CAU</text></g>
<g id="lbl-BP" class="bx"><rect x="1246" y="518" width="134" height="102"/><text x="1315" y="593" textLength="69" lengthAdjust="spacingAndGlyphs" fill="#666">BP</text><text x="1312" y="590" textLength="69" lengthAdjust="spacingAndGlyphs" fill="#ffff00">BP</text></g>
<g id="lbl-LG" class="bx"><rect x="203" y="958" width="134" height="104"/><text x="269" y="1035" textLength="67" lengthAdjust="spacingAndGlyphs" fill="#888">LG</text><text x="266" y="1032" textLength="67" lengthAdjust="spacingAndGlyphs" fill="#f6c4c4">LG</text></g>
<g id="lbl-IP" class="bx"><rect x="718" y="948" width="110" height="104"/><text x="773" y="1022" textLength="50" lengthAdjust="spacingAndGlyphs" fill="#ff0000">IP</text></g>
<g id="lbl-ITA" class="bx"><rect x="1137" y="958" width="152" height="104"/><text x="1210" y="1035" textLength="85" lengthAdjust="spacingAndGlyphs" fill="#2a5a2a">ITA</text><text x="1207" y="1032" textLength="85" lengthAdjust="spacingAndGlyphs" fill="#33ff00">ITA</text></g>
<g id="lbl-IC" class="bx"><rect x="55" y="1202" width="110" height="103"/><text x="110" y="1275" textLength="50" lengthAdjust="spacingAndGlyphs" fill="#0000ff">IC</text></g>
</g>

<g id="key-graphic">
<rect x="1948" y="1607" width="574" height="371" fill="#fff" stroke="#999" stroke-width="3"/>
<rect x="1949" y="1709" width="200" height="46" fill="#ffff00"/>
<rect x="1949" y="1755" width="200" height="45" fill="#00ff00"/>
<rect x="1949" y="1800" width="200" height="45" fill="#ff00ff"/>
<rect x="1949" y="1845" width="200" height="44" fill="#ff0000"/>
<rect x="1949" y="1889" width="200" height="44" fill="#0000ff"/>
<rect x="1949" y="1933" width="200" height="45" fill="#ff99ff"/>
<path d="M1948,1663 H2522" stroke="#888" stroke-width="4"/>
<path d="M1948,1709 H2522 M1948,1755 H2522 M1948,1800 H2522 M1948,1845 H2522 M1948,1889 H2522 M1948,1933 H2522 M2149,1663 V1978" stroke="#999" stroke-width="3"/>
<text class="kh" x="2235" y="1651" textLength="413" lengthAdjust="spacingAndGlyphs">COLOUR KEY GRAPHIC</text>
<text class="kt" x="2152" y="1699" textLength="277" lengthAdjust="spacingAndGlyphs">EASTMED-CAUpure</text>
<text class="kt" x="2152" y="1744" textLength="106" lengthAdjust="spacingAndGlyphs">BPpure</text>
<text class="kt" x="2152" y="1789" textLength="112" lengthAdjust="spacingAndGlyphs">ITApure</text>
<text class="kt" x="2152" y="1834" textLength="167" lengthAdjust="spacingAndGlyphs">FRA-CEpure</text>
<text class="kt" x="2152" y="1878" textLength="92" lengthAdjust="spacingAndGlyphs">IPpure</text>
<text class="kt" x="2152" y="1922" textLength="92" lengthAdjust="spacingAndGlyphs">ICpure</text>
<text class="kt" x="2152" y="1967" textLength="105" lengthAdjust="spacingAndGlyphs">LGpure</text>
</g>

<g id="key-names">
<rect x="2537" y="1750" width="940" height="223" fill="#fff" stroke="#000" stroke-width="3"/>
<rect x="2539" y="1833" width="864" height="42" fill="#0000f0"/>
<rect x="2539" y="1880" width="431" height="41" fill="#ffccff"/>
<rect x="2539" y="1926" width="700" height="45" fill="#0000f0"/>
<path d="M2537,1830 H3477" stroke="#222" stroke-width="5"/>
<path d="M2537,1877 H3477 M2537,1923 H3477" stroke="#999" stroke-width="3"/>
<text class="kh" x="3007" y="1808" textLength="393" lengthAdjust="spacingAndGlyphs">COLOUR KEY NAMES</text>
<text class="kt" x="2541" y="1866" fill="#f2b400" style="white-space:pre" textLength="860" lengthAdjust="spacingAndGlyphs">Interespecific crossing  or possible  Interespecific crossing</text>
<text class="kt" x="2541" y="1912" fill="#000" textLength="427" lengthAdjust="spacingAndGlyphs">Variety from La Gomera (LG)</text>
<text class="kt" x="2541" y="1960" fill="#fff" textLength="696" lengthAdjust="spacingAndGlyphs">Variety from the rest of the Canary Islands (IC)</text>
</g>
</svg>
